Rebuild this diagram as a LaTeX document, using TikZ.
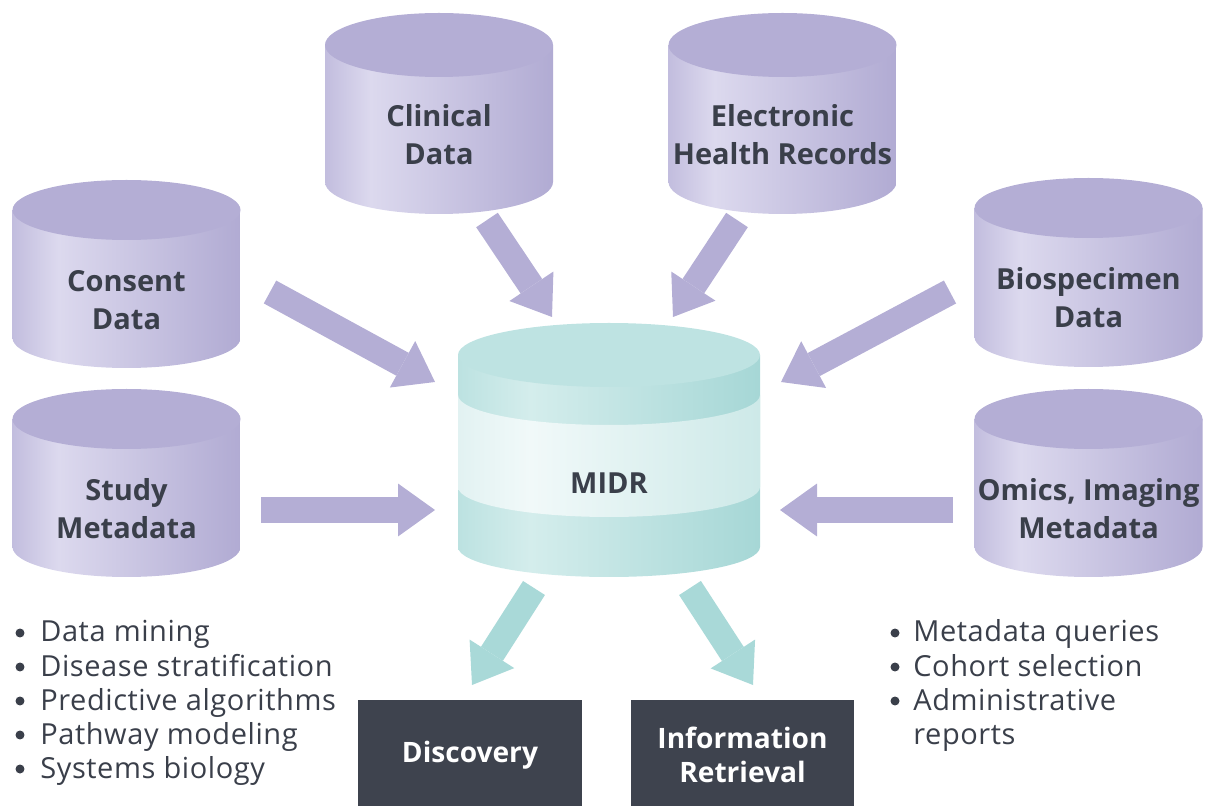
\documentclass[tikz,border=0pt]{standalone}
\usepackage{fontspec}
\setmainfont{Open Sans}
\usetikzlibrary{arrows.meta}

\definecolor{lavtop}{HTML}{B4AED5}
\definecolor{lavedge}{HTML}{C2BDDE}
\definecolor{lavlight}{HTML}{DCD9EE}
\definecolor{lavdark}{HTML}{B1ABD3}
\definecolor{tealtop}{HTML}{BEE3E2}
\definecolor{tealedge}{HTML}{BCE2E1}
\definecolor{teallight}{HTML}{D4EDEC}
\definecolor{tealdark}{HTML}{A6D7D6}
\definecolor{midedge}{HTML}{E2F2F2}
\definecolor{midlight}{HTML}{F1F9F9}
\definecolor{middark}{HTML}{CDE9E8}
\definecolor{tealarrow}{HTML}{A9D9D8}
\definecolor{boxdark}{HTML}{3E434E}
\definecolor{inkdark}{HTML}{3A3F4A}

\pgfdeclarehorizontalshading{lavside}{100bp}{color(0bp)=(lavedge); color(25bp)=(lavedge); color(35bp)=(lavlight); color(75bp)=(lavdark); color(100bp)=(lavdark)}
\pgfdeclarehorizontalshading{tealside}{100bp}{color(0bp)=(tealedge); color(25bp)=(tealedge); color(37bp)=(teallight); color(75bp)=(tealdark); color(100bp)=(tealdark)}
\pgfdeclarehorizontalshading{tealmid}{100bp}{color(0bp)=(midedge); color(25bp)=(midedge); color(37bp)=(midlight); color(75bp)=(middark); color(100bp)=(middark)}

\tikzset{
	dblabel/.style={align=center, text=inkdark, font=\fontsize{16.5}{21.5}\selectfont\bfseries},
	feed/.style={line width=0.52cm, draw=lavtop, -{Triangle[length=0.74cm, width=1.06cm, line width=0pt]}},
	serve/.style={feed, draw=tealarrow},
	outbox/.style={fill=boxdark, text=white, align=center, minimum width=4.48cm, minimum height=2.2cm, font=\fontsize{16}{19.5}\selectfont\bfseries},
	listtext/.style={anchor=base west, inner sep=0pt, text=inkdark, font=\fontsize{16.5}{19}\selectfont\addfontfeatures{LetterSpace=2}},
	bulletdot/.style={circle, fill=inkdark, inner sep=0pt, minimum size=0.18cm},
}

\begin{document}
\begin{tikzpicture}[x=0.02cm, y=0.02cm]
			\useasboundingbox (0,0) rectangle (1207,805);
			% source databases
			\foreach \cx/\ty/\h/\ry/\nm/\txt in {439/760/137/32/clinical/{Clinical\\Data}, 782.5/760/137/32/ehr/{Electronic\\Health Records}, 126.5/595/128/30/consent/{Consent\\Data}, 126.5/386/128/30/study/{Study\\Metadata}, 1088.5/597/129/30/biospec/{Biospecimen\\Data}, 1088.5/386/128/30/omics/{Omics, Imaging\\Metadata}}{
				\shade[shading=lavside] (\cx-114,\ty) -- (\cx-114,\ty-\h) arc[start angle=180, end angle=360, x radius=114, y radius=\ry] -- (\cx+114,\ty) -- cycle;
				\fill[lavtop] (\cx,\ty) ellipse[x radius=114, y radius=\ry];
				\node[dblabel] (\nm) at (\cx,\ty-90) {\txt};
			}
			% central repository
			\shade[shading=tealside] (458,450) -- (458,258) arc[start angle=180, end angle=360, x radius=151, y radius=30] -- (760,450) -- cycle;
			\shade[shading=tealmid] (458,410) -- (458,318) arc[start angle=180, end angle=360, x radius=151, y radius=30] -- (760,410) arc[start angle=0, end angle=-180, x radius=151, y radius=30] -- cycle;
			\fill[tealtop] (609,450) ellipse[x radius=151, y radius=32];
			\node[dblabel] (midr) at (609,322) {MIDR};
			% arrow ends
			\coordinate (clinical-out) at (487,585);
			\coordinate (clinical-in) at (552,488);
			\coordinate (ehr-out) at (737,585);
			\coordinate (ehr-in) at (673,488);
			\coordinate (consent-out) at (270,513);
			\coordinate (consent-in) at (435,423);
			\coordinate (biospec-out) at (950,513);
			\coordinate (biospec-in) at (781,423);
			\coordinate (study-out) at (261,295);
			\coordinate (study-in) at (435,295);
			\coordinate (omics-out) at (953,295);
			\coordinate (omics-in) at (780,295);
			\coordinate (midr-disc) at (534,217);
			\coordinate (midr-info) at (690,217);
			\coordinate (disc-in) at (472,120);
			\coordinate (info-in) at (753,120);
			\foreach \src in {clinical, ehr, consent, biospec, study, omics}
				\draw[feed] (\src-out) -- (\src-in);
			\draw[serve] (midr-disc) -- (disc-in);
			\draw[serve] (midr-info) -- (info-in);
			% outputs
			\node[outbox] (discovery) at (470,50) {Discovery};
			\node[outbox] (inforet) at (742.5,50) {Information\\Retrieval};
			\foreach \t [count=\i] in {Data mining, Disease stratification, Predictive algorithms, Pathway modeling, Systems biology}{
				\node[bulletdot] (disc-b\i) at (20,172-34*\i+34) {};
				\node[listtext] (disc-\i) at (40,163-34*\i+34) {\t};
			}
			\foreach \t [count=\i] in {Metadata queries, Cohort selection, Administrative, reports}{
				\ifnum \i < 4
				\node[bulletdot] (info-b\i) at (895,172-34*\i+34) {};
				\fi
				\node[listtext] (info-\i) at (913,163-34*\i+34) {\t};
			}
		\end{tikzpicture}
\end{document}
